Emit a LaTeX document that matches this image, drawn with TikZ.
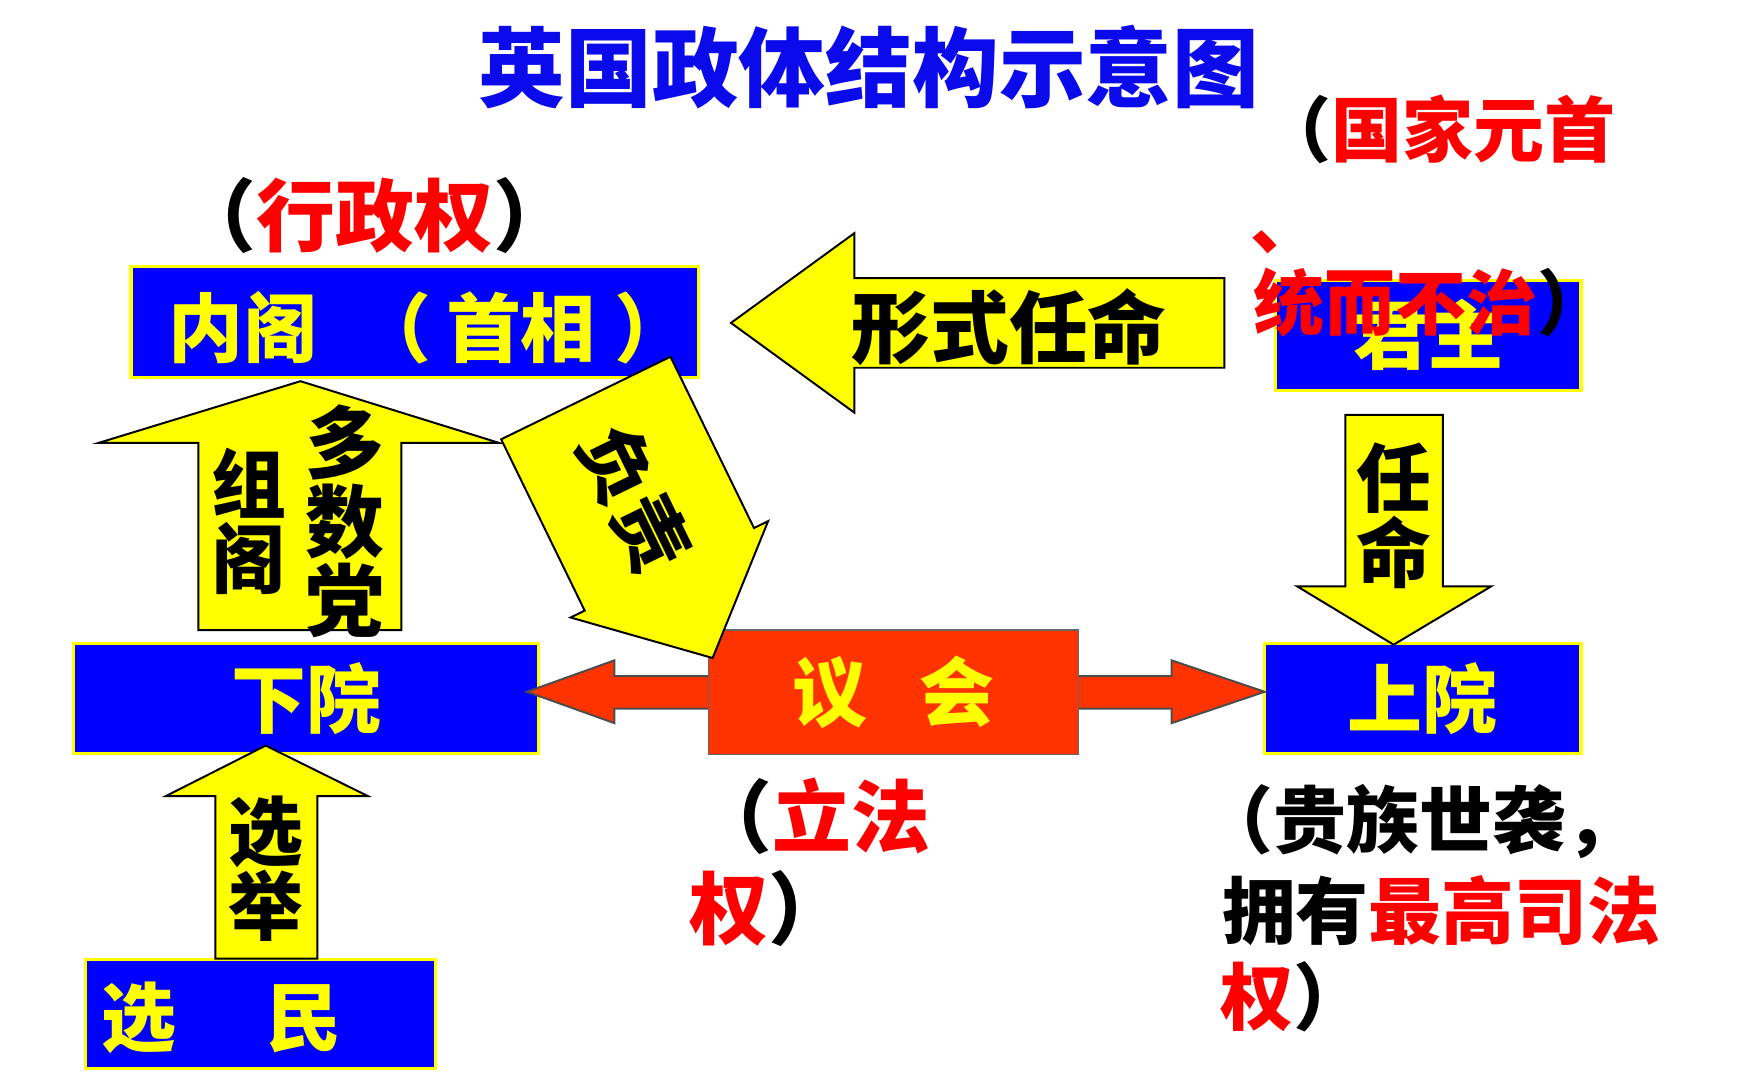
\documentclass[tikz,border=0pt]{standalone}
\usepackage{fontspec}
\newfontfamily\cjk{Noto Sans CJK SC}
\definecolor{pblue}{RGB}{0,0,255}
\definecolor{tblue}{RGB}{10,10,235}
\definecolor{pred}{RGB}{255,0,0}
\definecolor{pyel}{RGB}{255,255,0}
\definecolor{porange}{RGB}{255,51,0}
\tikzset{
  bluebox/.style={draw=pyel, line width=0.8pt, fill=pblue, text=pyel, inner sep=0pt,
    font=\cjk\bfseries\fontsize{19}{19}\selectfont},
  yarrow/.style={draw=black, line width=0.5pt, fill=pyel},
  txt/.style={inner sep=0pt, font=\cjk\bfseries\fontsize{#1}{#1}\selectfont},
  txt/.default=19,
  vtxt/.style={inner sep=0pt, align=center, font=\cjk\bfseries\fontsize{#1}{#1}\selectfont},
  vtxt/.default=19
}
\begin{document}
\begin{tikzpicture}[x=0.01cm,y=-0.01cm]
\fill[white] (0,0) rectangle (1568,963);
\useasboundingbox (0,0) rectangle (1568,963);

% title
\node[txt=22, text=tblue] (title) at (775,60) {英国政体结构示意图};

% boxes
\node[bluebox, minimum width=5.06cm, minimum height=0.99cm] (neige) at (370,287.5) {};
\node[txt, text=pyel, anchor=west] (neigetxt) at (150,292) {内阁\hspace{0.5em}（\hspace{0.2em}首相\hspace{0.25em}）};
\node[bluebox, minimum width=2.72cm, minimum height=0.98cm] (junzhu) at (1274,299) {君主};
\node[bluebox, minimum width=4.14cm, minimum height=0.98cm] (xiayuan) at (273,623) {下院};
\node[bluebox, minimum width=2.82cm, minimum height=0.98cm] (shangyuan) at (1269,623) {上院};
\node[bluebox, minimum width=3.12cm, minimum height=0.97cm] (xuanmin) at (232,904.5) {};
\node[txt, text=pyel, anchor=west] (xuanmintxt) at (90,908) {选\hspace{1.2em}民};

% double arrow behind parliament
\draw[fill=porange, draw=black!70, line width=0.5pt]
  (470,617) -- (548,589) -- (548,603) -- (1045,603) -- (1045,589) -- (1128,617)
  -- (1045,645) -- (1045,632) -- (548,632) -- (548,645) -- cycle;
\node[bluebox, fill=porange, draw=black!60, line width=0.4pt, minimum width=3.30cm, minimum height=1.11cm] (yihui) at (797,617.5) {议\hspace{0.7em}会};

% 形式任命 arrow
\draw[yarrow] (1092,248) -- (762,248) -- (762,208) -- (652,288) -- (762,368) -- (762,328) -- (1092,328) -- cycle;
\node[txt=20] (xingshi) at (900,292) {形式任命};

% 组阁 arrow
\draw[yarrow] (177,562) -- (177,395) -- (88,395) -- (268,340) -- (445,395) -- (358,395) -- (358,562) -- cycle;
\node[vtxt=19] (zuge) at (222,465) {组\\阁};
\node[vtxt=20] (duoshu) at (308,465) {多\\数\\党};

% 负责 arrow
\begin{scope}[shift={(522.5,355)}, rotate=26]
  \draw[yarrow] (-84,0) -- (84,0) -- (84,170) -- (98,170) -- (0,258) -- (-98,170) -- (-84,170) -- cycle;
  \node[txt=19, rotate=-64] (fuze) at (0,100) {负责};
\end{scope}

% 任命 arrow
\draw[yarrow] (1200,370) -- (1287,370) -- (1287,523) -- (1330,523) -- (1243,575) -- (1157,523) -- (1200,523) -- cycle;
\node[vtxt=19] (renming) at (1243,460) {任\\命};

% 选举 arrow
\draw[yarrow] (192,855) -- (192,710) -- (148,710) -- (237,665) -- (328,710) -- (283,710) -- (283,855) -- cycle;
\node[vtxt=19] (xuanju) at (237,775) {选\\举};

% annotations
\node[txt=20, anchor=west] (xzq) at (158,192) {（\textcolor{pred}{行政权}）};
\node[txt=18, anchor=west] (gj1) at (1124,115) {（\textcolor{pred}{国家元首}};
\node[txt=18, anchor=base west, text=pred] (dun) at (1115,222) {、};
\node[txt=18, anchor=west] (gj2) at (1117,270) {\textcolor{pred}{统而不治}）};
\node[txt=20, anchor=west] (lf1) at (618,728) {（\textcolor{pred}{立法}};
\node[txt=20, anchor=west] (lf2) at (614,810) {\textcolor{pred}{权}）};
\node[txt=18.5, anchor=west] (sy1) at (1070,733) {（贵族世袭，};
\node[txt=18.5, anchor=west] (sy2) at (1090,812) {拥有\textcolor{pred}{最高司法}};
\node[txt=18.5, anchor=west] (sy3) at (1088,889) {\textcolor{pred}{权}）};
\end{tikzpicture}
\end{document}
